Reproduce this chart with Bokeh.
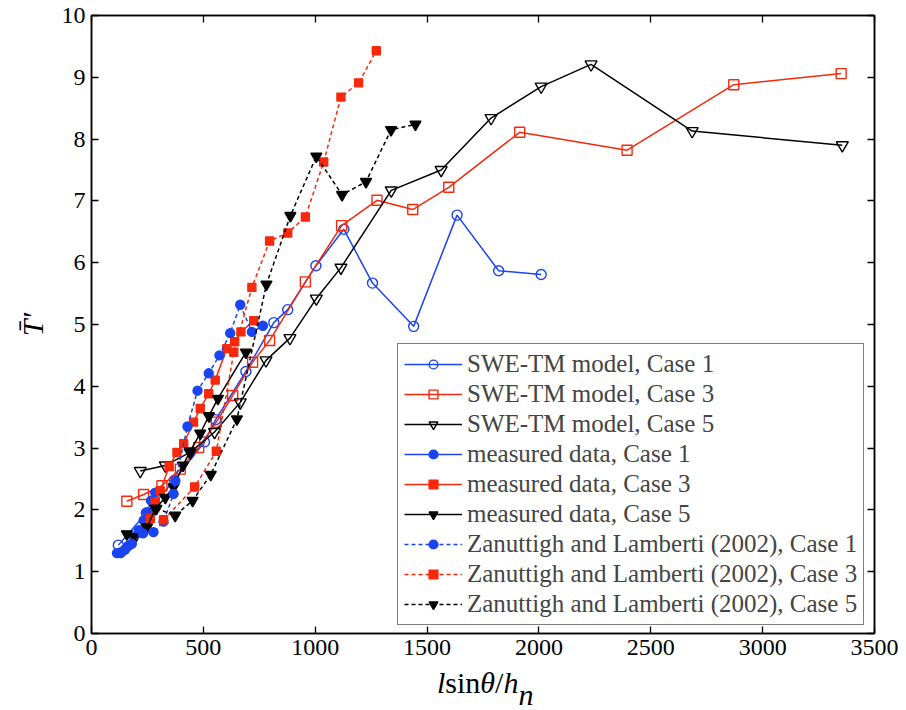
from bokeh.plotting import figure
from bokeh.models import Range1d, LinearAxis, FixedTicker, Legend, LegendItem, Div
from bokeh.layouts import column
from bokeh.embed import file_html
from bokeh.resources import INLINE

BLUE = "#1a44f2"
RED = "#f8280b"
BLACK = "#000000"
FONT = "Liberation Serif"

# ---- data ----
swe1_x = [120, 245, 370, 505, 555, 690, 815, 877, 1003, 1128, 1256, 1440, 1634, 1820, 2010]
swe1_y = [1.43, 1.95, 2.48, 3.10, 3.46, 4.24, 5.03, 5.24, 5.95, 6.54, 5.67, 4.97, 6.77, 5.87, 5.81]

swe3_x = [158, 233, 315, 397, 479, 558, 631, 720, 796, 956, 1118, 1276, 1436, 1597, 1914, 2394, 2871, 3351]
swe3_y = [2.14, 2.25, 2.39, 2.66, 3.01, 3.42, 3.85, 4.39, 4.74, 5.69, 6.60, 7.01, 6.86, 7.22, 8.11, 7.82, 8.88, 9.06]

swe5_x = [218, 330, 441, 550, 665, 780, 887, 1005, 1115, 1340, 1563, 1786, 2010, 2233, 2685, 3356]
swe5_y = [2.63, 2.72, 2.93, 3.26, 3.74, 4.42, 4.78, 5.42, 5.92, 7.17, 7.50, 8.34, 8.85, 9.21, 8.13, 7.90]

meas1_x = [114, 135, 150, 165, 188, 210, 233, 248, 266, 285]
meas1_y = [1.30, 1.32, 1.36, 1.42, 1.56, 1.67, 1.83, 1.96, 2.15, 2.28]

meas3_x = [263, 285, 307, 347, 382, 412, 456, 486, 524, 553, 605, 640, 668, 725]
meas3_y = [1.86, 2.12, 2.31, 2.70, 2.93, 3.07, 3.42, 3.64, 3.88, 4.10, 4.61, 4.72, 4.88, 5.06]

meas5_x = [158, 195, 248, 285, 330, 367, 409, 441, 486, 525, 565, 690]
meas5_y = [1.61, 1.56, 1.72, 2.02, 2.20, 2.37, 2.72, 2.95, 3.24, 3.52, 3.80, 4.55]

zan1_x = [130, 180, 230, 277, 322, 367, 375, 429, 474, 524, 572, 620, 665, 717, 766]
zan1_y = [1.30, 1.45, 1.62, 1.64, 1.81, 2.26, 2.47, 3.35, 3.93, 4.21, 4.50, 4.86, 5.32, 4.88, 4.98]

zan3_x = [322, 461, 558, 636, 717, 796, 877, 956, 1038, 1115, 1194, 1273]
zan3_y = [1.84, 2.37, 2.95, 4.55, 5.60, 6.35, 6.48, 6.74, 7.63, 8.68, 8.91, 9.43]

zan5_x = [290, 374, 452, 533, 650, 782, 889, 1005, 1120, 1227, 1339, 1448]
zan5_y = [2.02, 1.91, 2.15, 2.57, 3.47, 5.65, 6.76, 7.72, 7.10, 7.31, 8.15, 8.24]

x_ticks = [0, 500, 1000, 1500, 2000, 2500, 3000, 3500]
y_ticks = [0, 1, 2, 3, 4, 5, 6, 7, 8, 9, 10]

series = [
    ("SWE-TM model, Case 1", swe1_x, swe1_y, BLUE, "solid", "circle", False, 10),
    ("SWE-TM model, Case 3", swe3_x, swe3_y, RED, "solid", "square", False, 10),
    ("SWE-TM model, Case 5", swe5_x, swe5_y, BLACK, "solid", "inverted_triangle", False, 12),
    ("measured data, Case 1", meas1_x, meas1_y, BLUE, "solid", "circle", True, 9),
    ("measured data, Case 3", meas3_x, meas3_y, RED, "solid", "square", True, 8),
    ("measured data, Case 5", meas5_x, meas5_y, BLACK, "solid", "inverted_triangle", True, 11),
    ("Zanuttigh and Lamberti (2002), Case 1", zan1_x, zan1_y, BLUE, "4 3", "circle", True, 9),
    ("Zanuttigh and Lamberti (2002), Case 3", zan3_x, zan3_y, RED, "4 3", "square", True, 8),
    ("Zanuttigh and Lamberti (2002), Case 5", zan5_x, zan5_y, BLACK, "4 3", "inverted_triangle", True, 11),
]

p = figure(width=906, height=672, output_backend="svg", toolbar_location=None,
           x_range=Range1d(0, 3500), y_range=Range1d(0, 10),
           min_border_left=91, min_border_right=32, min_border_top=15, min_border_bottom=39)
p.grid.visible = False
p.background_fill_color = "white"
p.border_fill_color = "white"
p.outline_line_color = "black"
p.outline_line_width = 1.5
p.outline_line_alpha = 1.0

for ax, ticks in ((p.xaxis[0], x_ticks), (p.yaxis[0], y_ticks)):
    ax.ticker = FixedTicker(ticks=ticks)
    ax.major_tick_in = 7
    ax.major_tick_out = 0
    ax.minor_tick_line_color = None
    ax.major_tick_line_width = 1.3
    ax.axis_line_width = 1.5
    ax.major_label_text_font = FONT
    ax.major_label_text_font_size = "24px"
    ax.major_label_text_color = "black"
p.xaxis.major_label_standoff = 6
p.yaxis.major_label_standoff = 6

# y axis title
p.yaxis.axis_label = "T\u0304\u2032"
p.yaxis.axis_label_text_font = FONT
p.yaxis.axis_label_text_font_size = "30px"
p.yaxis.axis_label_text_font_style = "italic"
p.yaxis.axis_label_text_color = "black"
p.yaxis.axis_label_standoff = 10

for loc, ticks in (("right", y_ticks), ("above", x_ticks)):
    a = LinearAxis(ticker=FixedTicker(ticks=ticks), major_tick_in=7, major_tick_out=0,
                   minor_tick_line_color=None, major_label_text_font_size="0px",
                   major_label_standoff=0, axis_line_width=1.5, major_tick_line_width=1.3)
    p.add_layout(a, loc)

items = []
for label, xs, ys, col, dash, marker, filled, size in series:
    ln = p.line(xs, ys, line_color=col, line_width=1.5, line_dash=dash)
    sc = p.scatter(xs, ys, marker=marker, size=size, line_color=col, line_width=1.4,
                   fill_color=col if filled else None, fill_alpha=1.0 if filled else 0.0)
    items.append(LegendItem(label=label, renderers=[ln, sc]))

legend = Legend(items=items, location=(306, 8), border_line_color="black", border_line_width=1.5,
                background_fill_color="white", background_fill_alpha=1.0,
                label_text_font=FONT, label_text_font_size="25px",
                glyph_width=58, glyph_height=22, label_standoff=5, padding=6, spacing=2, margin=0,
                label_height=22)
p.add_layout(legend, "center")

# x axis title with mixed italic / upright parts
xlabel_html = (
    "<div style=\"font-family:'Liberation Serif',serif;font-size:30px;line-height:30px;"
    "color:black;padding-left:437px;margin-top:-4px;white-space:nowrap;\">"
    "<i>l</i>sin<i>&theta;</i>/<i>h</i>"
    "<span style=\"position:relative;top:12px;font-style:italic;\">n</span></div>"
)
xlabel = Div(text=xlabel_html, width=906, height=38, margin=0)

layout = column(p, xlabel, spacing=0)
open("out.html", "w").write(file_html(layout, INLINE))
